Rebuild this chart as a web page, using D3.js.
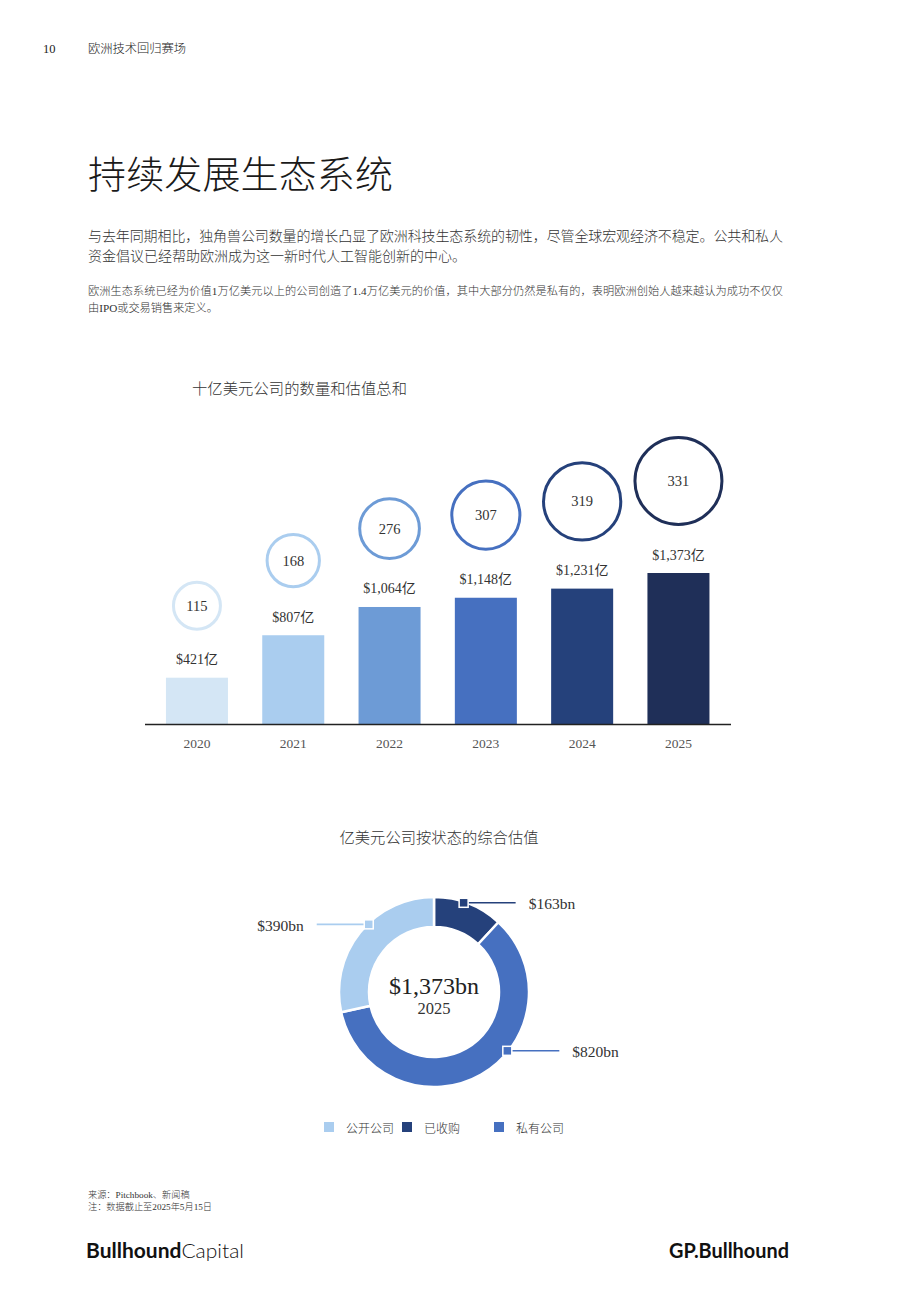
<!DOCTYPE html>
<html>
<head>
<meta charset="utf-8">
<script src="https://cdn.jsdelivr.net/npm/d3@7"></script>
<style>
  body { margin: 0; background: #fff; }
  svg { display: block; }
</style>
</head>
<body>
<div id="page"></div>
<script>
// data
const years = ["2020", "2021", "2022", "2023", "2024", "2025"]
const valuations = [421, 807, 1064, 1148, 1231, 1373]   // 亿美元 (as labelled)
const unicornCounts = [115, 168, 276, 307, 319, 331]
const yearColors = ["#D4E6F5", "#AACDEF", "#6D9BD6", "#4670C0", "#25417B", "#1F2F58"]

const statusNames = ["已收购", "私有公司", "公开公司"]
const statusValues = [163, 820, 390]
const statusColors = ["#25417B", "#4670C0", "#AACDEF"]
const legendOrder = ["公开公司", "已收购", "私有公司"]
const donutYear = "2025"

const textColor = "#333"
const serif = "'Liberation Serif', 'Noto Sans CJK SC', serif"
const cjk = "'Noto Sans CJK SC', sans-serif"

const svg = d3.select("#page")
  .append("svg")
    .attr("width", 920)
    .attr("height", 1302)
    .style("background", "#fff")

function addText(x, y, str, size, opts = {}) {
  const t = svg.append("text")
    .attr("x", x)
    .attr("y", y)
    .attr("dominant-baseline", "central")
    .attr("text-anchor", opts.anchor || "start")
    .style("font-family", opts.family || serif)
    .style("font-size", size + "px")
    .style("font-weight", opts.weight || 300)
    .style("fill", opts.color || textColor)
    .text(str)
  // stretch / squeeze letter spacing so the line ends where it does on the page
  if (opts.width) t.attr("textLength", opts.width).attr("lengthAdjust", "spacing")
  return t
}

// page header and intro text
addText(43, 49, "10", 12.5, { color: "#222" })
addText(88, 49, "欧洲技术回归赛场", 12.3, { color: "#222", width: 98 })
addText(88, 171, "持续发展生态系统", 38, { color: "#1a1a1a", family: cjk, width: 305 })

addText(88, 236, "与去年同期相比，独角兽公司数量的增长凸显了欧洲科技生态系统的韧性，尽管全球宏观经济不稳定。公共和私人", 14, { width: 695 })
addText(88, 256, "资金倡议已经帮助欧洲成为这一新时代人工智能创新的中心。", 14)
addText(88, 291, "欧洲生态系统已经为价值1万亿美元以上的公司创造了1.4万亿美元的价值，其中大部分仍然是私有的，表明欧洲创始人越来越认为成功不仅仅", 11.2, { width: 695 })
addText(88, 308, "由IPO或交易销售来定义。", 11.2)

// 1. bar chart: valuation + unicorn count bubbles

addText(192, 388, "十亿美元公司的数量和估值总和", 15.3, { width: 215 })

const xScale = d3.scaleBand()
  .domain(years)
  .range([148.8, 726.6])
  .paddingInner(0.356)
  .paddingOuter(0.178)

const yScale = d3.scaleLinear()
  .domain([0, d3.max(valuations)])
  .range([724, 573])

// bubbles grow with the rank of the unicorn count
const rank = d3.rank(unicornCounts)
const rScale = d3.scalePow()
  .exponent(1.25)
  .domain([0, years.length - 1])
  .range([25, 45])

const barData = years.map((y, i) => ({
  year: y, value: valuations[i], count: unicornCounts[i],
  color: yearColors[i], r: rScale(rank[i])
}))

const bars = svg.append("g")
bars.selectAll("rect")
  .data(barData)
  .join("rect")
    .attr("x", d => xScale(d.year))
    .attr("y", d => yScale(d.value))
    .attr("width", xScale.bandwidth())
    .attr("height", d => yScale(0) - yScale(d.value))
    .attr("fill", d => d.color)

bars.selectAll("text.value")
  .data(barData)
  .join("text")
    .attr("class", "value")
    .attr("x", d => xScale(d.year) + xScale.bandwidth() / 2)
    .attr("y", d => yScale(d.value) - 18)
    .attr("text-anchor", "middle")
    .attr("dominant-baseline", "central")
    .style("font-family", serif)
    .style("font-size", "14px")
    .style("fill", textColor)
    .text(d => "$" + d3.format(",")(d.value) + "亿")

bars.selectAll("circle")
  .data(barData)
  .join("circle")
    .attr("cx", d => xScale(d.year) + xScale.bandwidth() / 2)
    .attr("cy", d => yScale(d.value) - 47 - d.r)
    .attr("r", d => d.r - 1.5)
    .attr("fill", "none")
    .attr("stroke", d => d.color)
    .attr("stroke-width", 3)

bars.selectAll("text.count")
  .data(barData)
  .join("text")
    .attr("class", "count")
    .attr("x", d => xScale(d.year) + xScale.bandwidth() / 2)
    .attr("y", d => yScale(d.value) - 47 - d.r)
    .attr("text-anchor", "middle")
    .attr("dominant-baseline", "central")
    .style("font-family", serif)
    .style("font-size", "14.5px")
    .style("fill", textColor)
    .text(d => d.count)

const xAxis = svg.append("g")
  .attr("transform", `translate(0, ${yScale(0)})`)
  .call(d3.axisBottom(xScale).tickSize(0).tickPadding(14))
xAxis.select(".domain").remove()
xAxis.selectAll("text")
  .style("font-family", serif)
  .style("font-size", "13.5px")
  .style("fill", "#555")
svg.append("line")
  .attr("x1", 145).attr("x2", 731)
  .attr("y1", yScale(0) + 0.5).attr("y2", yScale(0) + 0.5)
  .attr("stroke", "#222")
  .attr("stroke-width", 1.6)

// 2. donut by status

addText(439, 837, "亿美元公司按状态的综合估值", 15.3, { anchor: "middle", width: 199 })

const cx = 434, cy = 992
const outerR = 95, innerR = 65

const pieData = d3.pie()
  .sort(null)
  .value(d => d.value)(statusNames.map((n, i) => ({ name: n, value: statusValues[i], color: statusColors[i] })))

const arc = d3.arc().innerRadius(innerR).outerRadius(outerR)

const donut = svg.append("g").attr("transform", `translate(${cx},${cy})`)
donut.selectAll("path")
  .data(pieData)
  .join("path")
    .attr("d", arc)
    .attr("fill", d => d.data.color)
    .attr("stroke", "#fff")
    .attr("stroke-width", 2.5)

// callouts: where on each slice the marker sits, and which side the label goes
const callout = {
  "已收购": { t: 0.43, side: 1 },
  "私有公司": { t: 0.40, side: 1 },
  "公开公司": { t: 0.57, side: -1 },
}
pieData.forEach(d => {
  const c = callout[d.data.name]
  const a = d.startAngle + (d.endAngle - d.startAngle) * c.t
  const mx = Math.sin(a) * (outerR - 1)
  const my = -Math.cos(a) * (outerR - 1)
  donut.append("line")
    .attr("x1", mx).attr("y1", my)
    .attr("x2", mx + c.side * 52).attr("y2", my)
    .attr("stroke", d.data.color)
    .attr("stroke-width", 1.6)
  donut.append("rect")
    .attr("x", mx - 4.5).attr("y", my - 4.5)
    .attr("width", 9).attr("height", 9)
    .attr("fill", d.data.color)
    .attr("stroke", "#fff")
    .attr("stroke-width", 1.5)
  donut.append("text")
    .attr("x", mx + c.side * 65)
    .attr("y", my + 1)
    .attr("text-anchor", c.side > 0 ? "start" : "end")
    .attr("dominant-baseline", "central")
    .style("font-family", serif)
    .style("font-size", "15.5px")
    .style("fill", textColor)
    .text("$" + d.data.value + "bn")
})

donut.append("text")
  .attr("y", -6)
  .attr("text-anchor", "middle")
  .attr("dominant-baseline", "central")
  .style("font-family", serif)
  .style("font-size", "24px")
  .style("fill", "#222")
  .text("$" + d3.format(",")(d3.sum(statusValues)) + "bn")
donut.append("text")
  .attr("y", 16)
  .attr("text-anchor", "middle")
  .attr("dominant-baseline", "central")
  .style("font-family", serif)
  .style("font-size", "16.5px")
  .style("fill", textColor)
  .text(donutYear)

// legend
const legendX = [324, 402, 494]
const legend = svg.append("g").attr("transform", "translate(0, 1127)")
legendOrder.forEach((name, i) => {
  const color = statusColors[statusNames.indexOf(name)]
  legend.append("rect")
    .attr("x", legendX[i]).attr("y", -5)
    .attr("width", 10).attr("height", 10)
    .attr("fill", color)
  legend.append("text")
    .attr("x", legendX[i] + 22)
    .attr("dominant-baseline", "central")
    .style("font-family", cjk)
    .style("font-size", "12px")
    .style("font-weight", 300)
    .style("fill", textColor)
    .text(name)
})

// footer
addText(88, 1195, "来源：Pitchbook、新闻稿", 9.2)
addText(88, 1207, "注：数据截止至2025年5月15日", 9.2)

const logoL = svg.append("text")
  .attr("x", 86).attr("y", 1250)
  .attr("dominant-baseline", "central")
  .attr("textLength", 158)
  .attr("lengthAdjust", "spacingAndGlyphs")
  .style("font-family", "Lato, 'Open Sans', sans-serif")
  .style("font-size", "20px")
  .style("fill", "#111")
logoL.append("tspan").style("font-weight", 700).text("Bullhound")
logoL.append("tspan").style("font-weight", 300).text("Capital")

svg.append("text")
  .attr("x", 789).attr("y", 1250)
  .attr("text-anchor", "end")
  .attr("dominant-baseline", "central")
  .attr("textLength", 120)
  .attr("lengthAdjust", "spacingAndGlyphs")
  .style("font-family", "Lato, 'Open Sans', sans-serif")
  .style("font-size", "20px")
  .style("font-weight", 700)
  .style("fill", "#111")
  .text("GP.Bullhound")
</script>
</body>
</html>
